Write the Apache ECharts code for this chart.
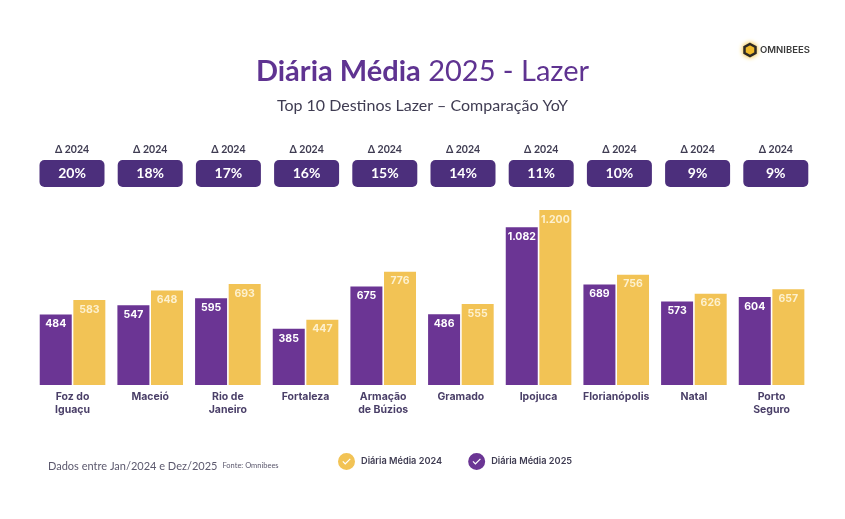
<!DOCTYPE html>
<html>
<head>
<meta charset="utf-8">
<title>Diária Média 2025 - Lazer</title>
<script src="https://cdn.jsdelivr.net/npm/echarts@6/dist/echarts.min.js"></script>
<style>
  html, body { margin: 0; background: #fff; }
  #chart { width: 845px; height: 519px; }
</style>
</head>
<body>
<div id="chart"></div>
<script>
const destinos = ['Foz do\nIguaçu', 'Maceió', 'Rio de\nJaneiro', 'Fortaleza', 'Armação\nde Búzios', 'Gramado', 'Ipojuca', 'Florianópolis', 'Natal', 'Porto\nSeguro']
const diaria2025 = [484, 547, 595, 385, 675, 486, 1082, 689, 573, 604]
const diaria2024 = [583, 648, 693, 447, 776, 555, 1200, 756, 626, 657]
const deltas = ['20%', '18%', '17%', '16%', '15%', '14%', '11%', '10%', '9%', '9%']
const deltaTitulos = deltas.map(() => 'Δ 2024')

const ROXO = '#6b3594'
const AMARELO = '#f2c355'
const PILL = '#4c2f7c'
// circle with a reversed-winding check, so the check is cut out of the fill
const ICON_CHECK = 'path://M12 0A12 12 0 1 1 12 24A12 12 0 1 1 12 0ZM6.2 12.4L10.2 16.6L17.9 8.8L16.7 7.7L10.2 14.2L7.4 11.2Z'

const fmtValor = (p) => String(p.value).replace(/\B(?=(\d{3})+$)/g, '.')
const labelValor = (color) => ({
  show: true,
  position: 'insideTop',
  distance: 4,
  color,
  fontFamily: 'Inter',
  fontWeight: 'bold',
  fontSize: 10.5,
  formatter: fmtValor
})
const eixoLimpo = { axisLine: { show: false }, axisTick: { show: false }, splitLine: { show: false } }

let myChart = echarts.init(document.getElementById('chart'), null, { renderer: 'canvas' })
myChart.setOption({
  animation: false,
  backgroundColor: '#fff',
  title: [
    {
      text: '{b|Diária Média}{r| 2025 - Lazer}',
      left: 'center',
      top: 52,
      textStyle: {
        rich: {
          b: { fontFamily: 'Lato', fontWeight: 'bold', fontSize: 29, color: '#5f3391' },
          r: { fontFamily: 'Lato', fontWeight: 'normal', fontSize: 29, color: '#5f3391' }
        }
      }
    },
    {
      text: 'Top 10 Destinos Lazer – Comparação YoY',
      left: 'center',
      top: 93,
      textStyle: { fontFamily: 'Lato', fontWeight: 'normal', fontSize: 16, color: '#3f3c52' }
    },
    {
      text: '{a|Dados entre Jan/2024 e Dez/2025} {f|Fonte: Omnibees}',
      left: 43,
      top: 452,
      textStyle: {
        rich: {
          a: { fontFamily: 'Lato', fontWeight: 'normal', fontSize: 11, color: '#5c596e' },
          f: { fontFamily: 'Lato', fontWeight: 'normal', fontSize: 7.5, color: '#5c596e' }
        }
      }
    },
    {
      text: 'OMNIBEES',
      left: 755,
      top: 40,
      textStyle: { fontFamily: 'Inter', fontWeight: 600, fontSize: 9.5, color: '#3b3b3b' }
    }
  ],
  graphic: [{
    type: 'polygon',
    shape: { points: [[750, 44], [755.5, 47], [755.5, 53], [750, 56], [744.5, 53], [744.5, 47]] },
    style: { fill: '#f0b92c', stroke: '#2e2a25', lineWidth: 2.5, shadowBlur: 5, shadowColor: '#f5c12e' }
  }],
  legend: {
    left: 333,
    top: 448,
    itemWidth: 17,
    itemHeight: 17,
    itemGap: 26,
    selectedMode: false,
    textStyle: { fontFamily: 'Inter', fontWeight: 600, fontSize: 9.2, color: '#3f3c52', padding: [0, 0, 0, 1] },
    data: [
      { name: 'Diária Média 2024', icon: ICON_CHECK },
      { name: 'Diária Média 2025', icon: ICON_CHECK }
    ]
  },
  grid: [
    { left: 33.7, top: 210, width: 776.7, height: 175 },
    { left: 32.9, top: 190, width: 782, height: 10 }
  ],
  xAxis: [
    {
      type: 'category',
      gridIndex: 0,
      data: destinos,
      ...eixoLimpo,
      axisLabel: {
        interval: 0,
        margin: 5,
        lineHeight: 13.5,
        fontFamily: 'Inter',
        fontWeight: 700,
        fontSize: 10.5,
        color: '#4a3f68'
      }
    },
    {
      type: 'category',
      gridIndex: 1,
      position: 'top',
      data: deltas,
      ...eixoLimpo,
      axisLabel: {
        interval: 0,
        margin: 3,
        width: 65,
        height: 27,
        lineHeight: 27,
        align: 'center',
        backgroundColor: PILL,
        borderRadius: 5,
        fontFamily: 'Lato',
        fontWeight: 'bold',
        fontSize: 14,
        color: '#fff'
      }
    },
    {
      type: 'category',
      gridIndex: 1,
      position: 'top',
      offset: 35,
      data: deltaTitulos,
      ...eixoLimpo,
      axisLabel: {
        interval: 0,
        margin: 0,
        fontFamily: 'Lato',
        fontWeight: 'bold',
        fontSize: 10.5,
        color: '#3f3c52'
      }
    }
  ],
  yAxis: [
    { type: 'value', gridIndex: 0, min: 0, max: 1200, show: false },
    { type: 'value', gridIndex: 1, show: false }
  ],
  series: [
    {
      name: 'Diária Média 2025',
      type: 'bar',
      xAxisIndex: 0,
      yAxisIndex: 0,
      data: diaria2025,
      barWidth: 32,
      barGap: '5%',
      itemStyle: { color: ROXO },
      label: labelValor('#fff')
    },
    {
      name: 'Diária Média 2024',
      type: 'bar',
      xAxisIndex: 0,
      yAxisIndex: 0,
      data: diaria2024,
      barWidth: 32,
      itemStyle: { color: AMARELO },
      label: labelValor('#fdf1cf')
    }
  ]
})
</script>
</body>
</html>
